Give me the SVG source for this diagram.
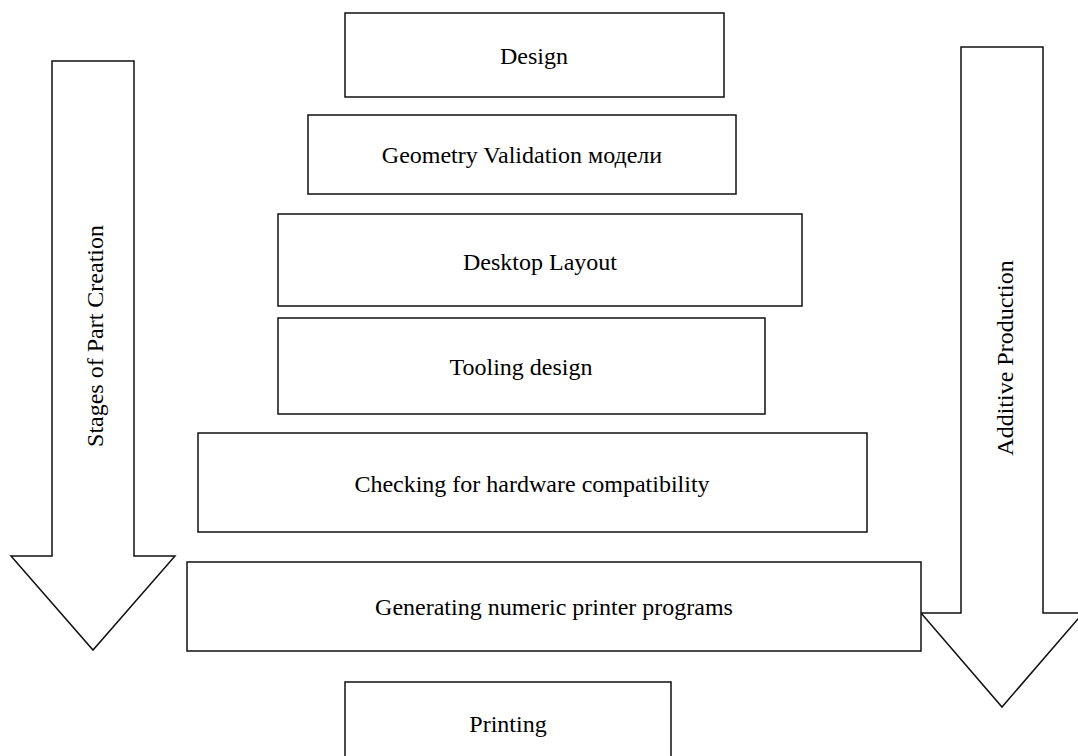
<svg xmlns="http://www.w3.org/2000/svg" width="1078" height="756" viewBox="0 0 1078 756">
  <style>
    .box { fill: #ffffff; stroke: #111111; stroke-width: 1.5; }
    .arrow { fill: #ffffff; stroke: #111111; stroke-width: 1.5; stroke-linejoin: miter; }
    .label { font-family: "Liberation Serif", "Times New Roman", serif; font-size: 24px; fill: #000000; text-anchor: middle; }
  </style>
  <rect width="1078" height="756" fill="#ffffff"/>

  <!-- side arrows -->
  <g id="connectors">
    <g id="arrow-stages">
      <path class="arrow" d="M52,61 L134,61 L134,556 L175,556 L93,650 L11,556 L52,556 Z"/>
      <text class="label" transform="translate(103,336) rotate(-90)">Stages of Part Creation</text>
    </g>
    <g id="arrow-additive">
      <path class="arrow" d="M961,47 L1043,47 L1043,613 L1083,613 L1002,707 L921,613 L961,613 Z"/>
      <text class="label" transform="translate(1013,358) rotate(-90)">Additive Production</text>
    </g>
  </g>

  <!-- process steps -->
  <g id="step-design">
    <rect class="box" x="345" y="13" width="379" height="84"/>
    <text class="label" x="534" y="64">Design</text>
  </g>
  <g id="step-geometry">
    <rect class="box" x="308" y="115" width="428" height="79"/>
    <text class="label" x="522" y="163">Geometry Validation модели</text>
  </g>
  <g id="step-layout">
    <rect class="box" x="278" y="214" width="524" height="92"/>
    <text class="label" x="540" y="270">Desktop Layout</text>
  </g>
  <g id="step-tooling">
    <rect class="box" x="278" y="318" width="487" height="96"/>
    <text class="label" x="521" y="375">Tooling design</text>
  </g>
  <g id="step-checking">
    <rect class="box" x="198" y="433" width="669" height="99"/>
    <text class="label" x="532" y="492">Checking for hardware compatibility</text>
  </g>
  <g id="step-generating">
    <rect class="box" x="187" y="562" width="734" height="89"/>
    <text class="label" x="554" y="615">Generating numeric printer programs</text>
  </g>
  <g id="step-printing">
    <rect class="box" x="345" y="682" width="326" height="90"/>
    <text class="label" x="508" y="732">Printing</text>
  </g>
</svg>
